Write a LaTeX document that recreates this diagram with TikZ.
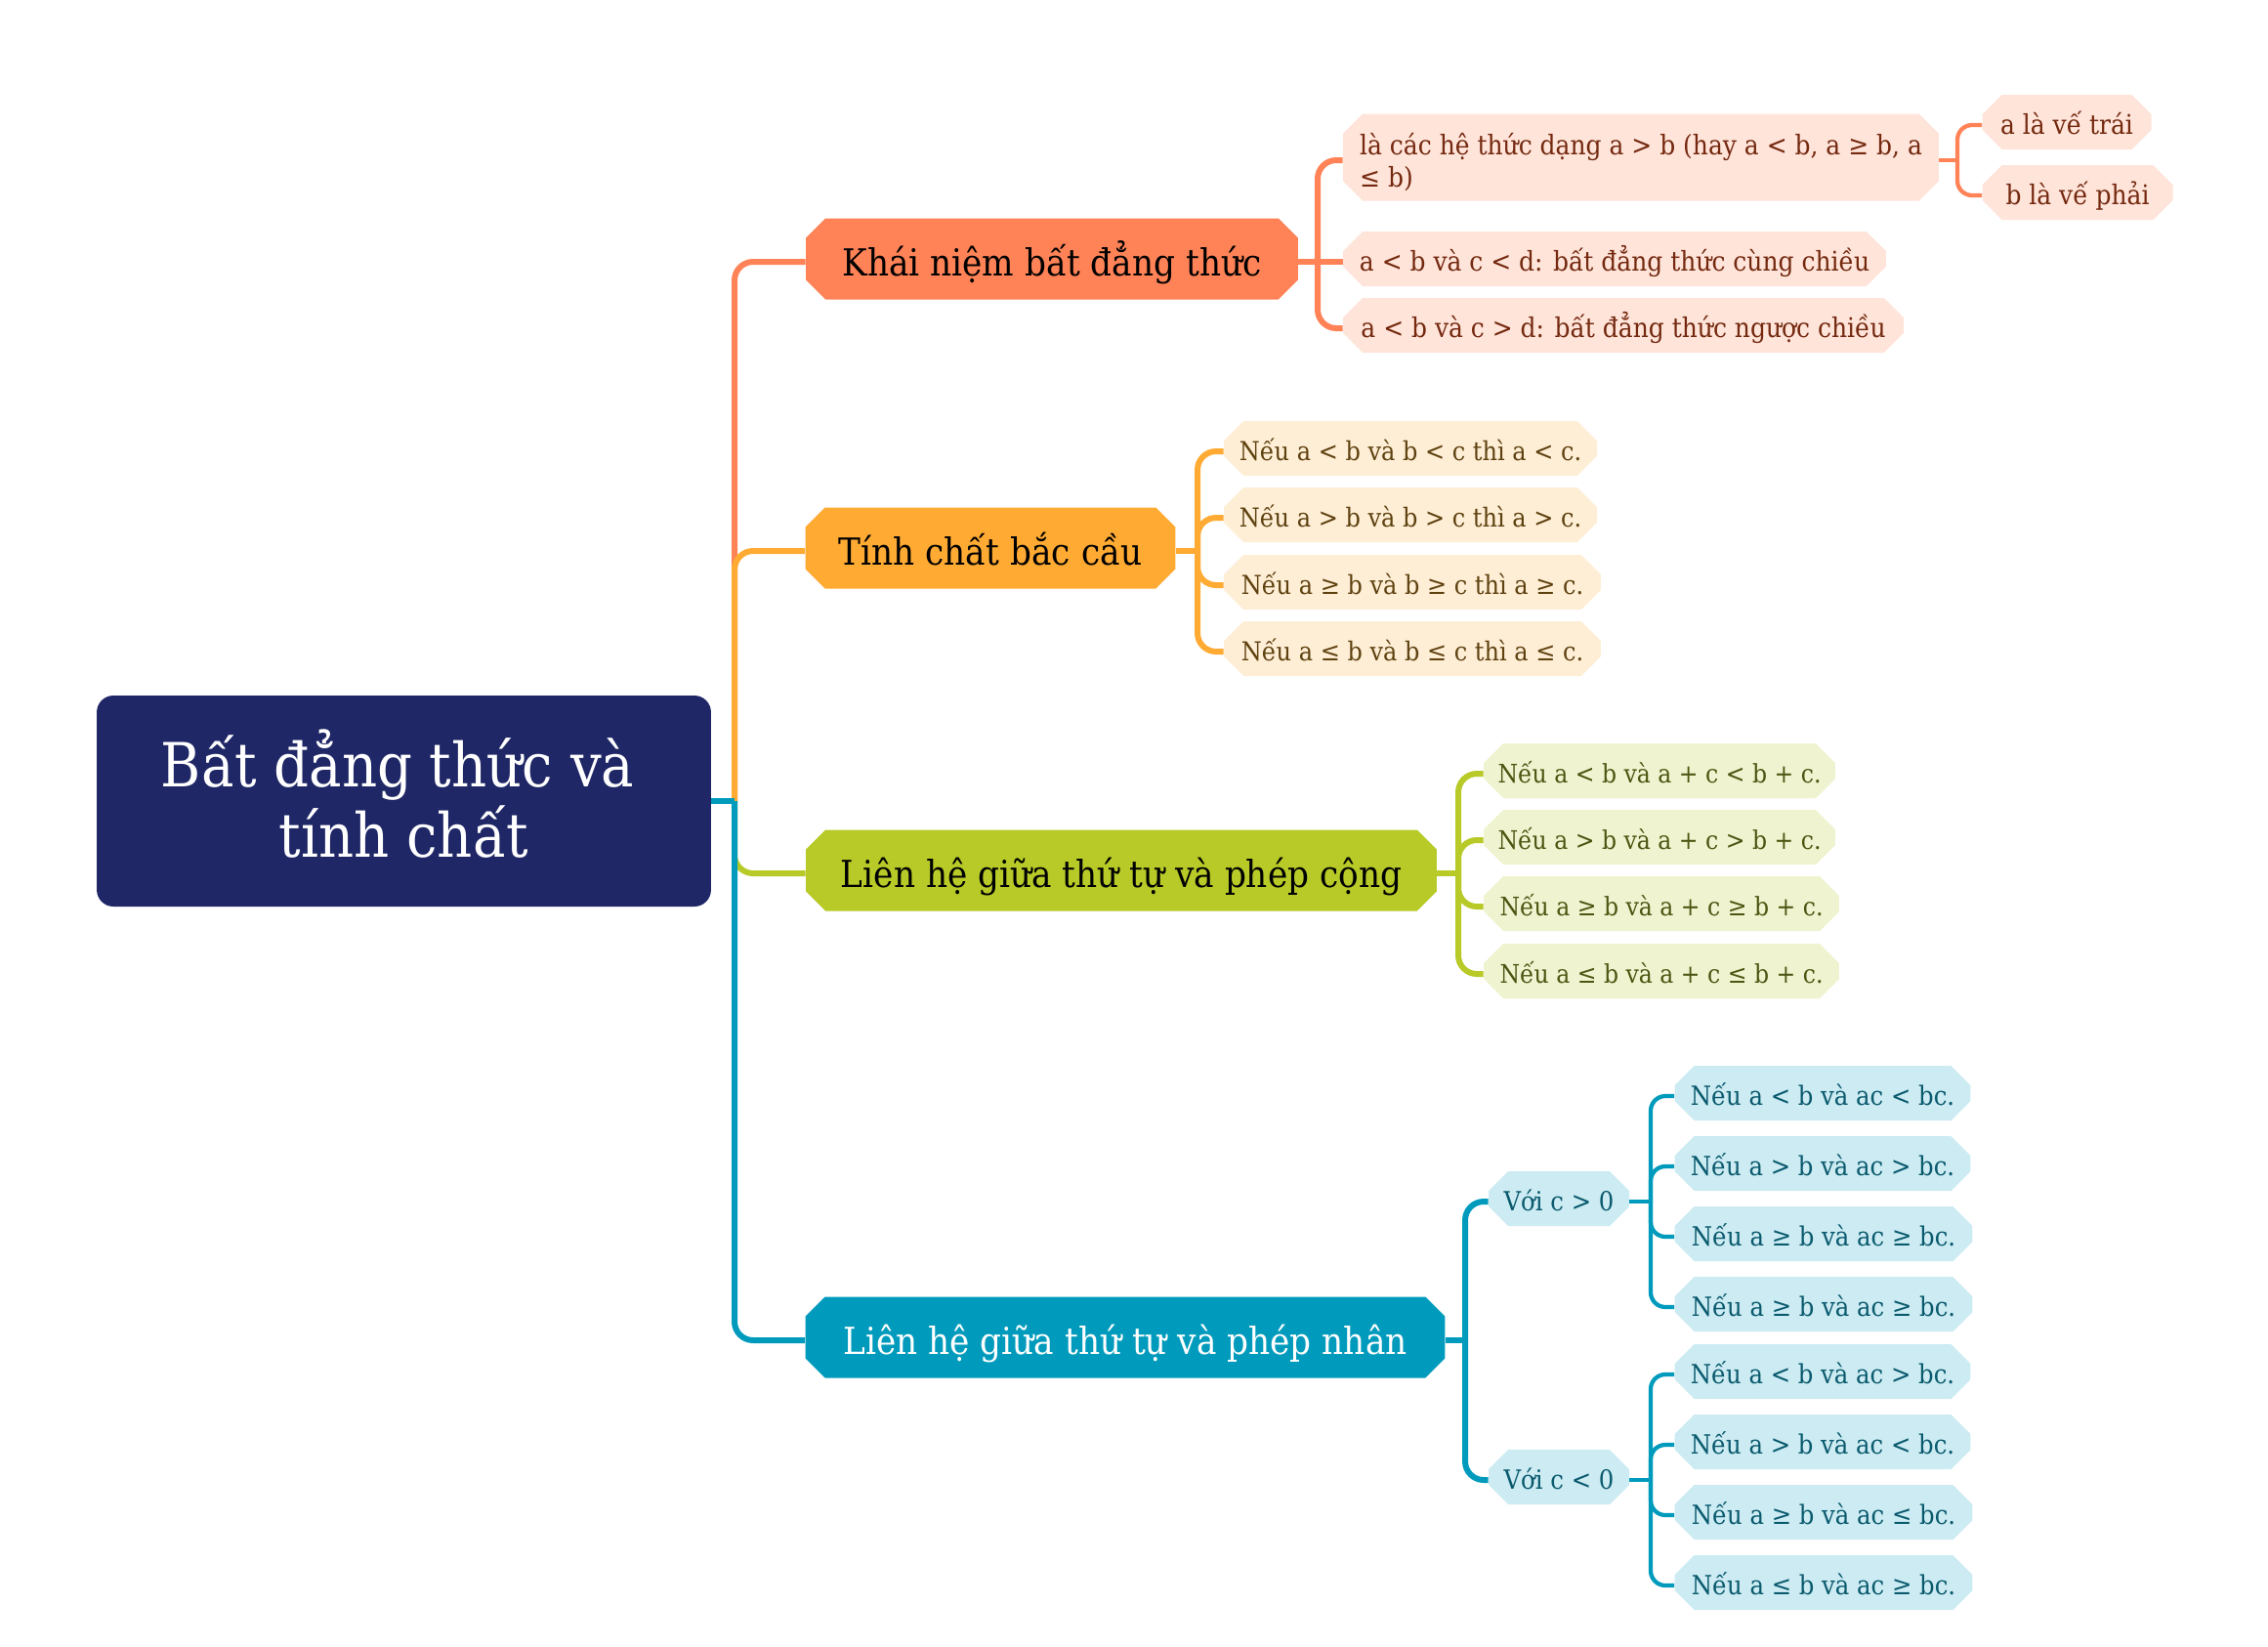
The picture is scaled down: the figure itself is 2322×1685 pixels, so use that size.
\documentclass[tikz,border=0pt]{standalone}
\usepackage{fontspec}
\setmainfont{DejaVu Serif Condensed}
\usetikzlibrary{shapes.misc}

\definecolor{azul}{HTML}{1F2766}
\definecolor{nar}{HTML}{FF8357}
\definecolor{ama}{HTML}{FFAB33}
\definecolor{ver}{HTML}{B7CA27}
\definecolor{tur}{HTML}{009BBC}
\definecolor{narT}{HTML}{74290F}
\definecolor{amaT}{HTML}{5E4210}
\definecolor{verT}{HTML}{4D5512}
\definecolor{turT}{HTML}{0A5A6E}

\tikzstyle{raiz}= [rectangle,rounded corners=0.34cm,fill=azul,text=white,align=center,inner sep=0pt,minimum width=12.58cm,minimum height=4.32cm,text depth=0.3cm,font=\fontsize{35.5}{41}\selectfont]
\tikzstyle{rama}= [chamfered rectangle,chamfered rectangle sep=0.2cm,inner sep=0pt,minimum height=1.66cm,text height=0.84cm,text depth=0.14cm,font=\fontsize{21.7}{26}\selectfont]
\tikzstyle{hoja}= [chamfered rectangle,chamfered rectangle sep=0.2cm,inner sep=0pt,minimum height=1.12cm,align=left,text height=0.6cm,text depth=0.09cm,font=\fontsize{15.2}{18.7}\selectfont]
\tikzstyle{hojaN}= [hoja,fill=nar!22,text=narT,font=\fontsize{15.8}{18.7}\selectfont]
\tikzstyle{hojaA}= [hoja,fill=ama!20,text=amaT]
\tikzstyle{hojaV}= [hoja,fill=ver!22,text=verT,font=\fontsize{14.9}{18.7}\selectfont]
\tikzstyle{hojaT}= [hoja,fill=tur!20,text=turT,font=\fontsize{15.4}{18.7}\selectfont]
\tikzstyle{linea}= [line width=0.12cm,rounded corners=0.38cm]
\tikzstyle{fina}= [line width=0.085cm,rounded corners=0.3cm]

\begin{document}
\begin{tikzpicture}[x=0.02cm,y=-0.02cm]
		\useasboundingbox (0,0) rectangle (2322,1685);

		\coordinate (tronco) at (752,820);
		\coordinate (b1) at (1349,268);
		\coordinate (b1a) at (2004,164);
		\coordinate (b2) at (1226,564);
		\coordinate (b3) at (1493,894);
		\coordinate (b4) at (1500,1372);
		\coordinate (c1) at (1690,1230);
		\coordinate (c2) at (1690,1515);

		\node (raiz) at (413.5,820) [raiz] {Bất đẳng thức và\hspace*{0.26cm}\\tính chất};

		\node (k1) at (1077,265) [rama,fill=nar,minimum width=10.08cm] {Khái niệm bất đẳng thức};
		\node (k2) at (1014,561) [rama,fill=ama,minimum width=7.58cm] {Tính chất bắc cầu};
		\node (k3) at (1148,891) [rama,fill=ver,minimum width=12.92cm] {Liên hệ giữa thứ tự và phép cộng};
		\node (k4) at (1152,1369) [rama,fill=tur,text=white,minimum width=13.1cm] {Liên hệ giữa thứ tự và phép nhân};

		\node (l1) at (1680,161) [hojaN,minimum width=12.2cm,minimum height=1.78cm,text height=1.3cm,text depth=0.08cm] {là các hệ thức dạng a > b (hay a < b, a ≥ b, a\\≤ b)};
		\node (l2) at (1653,265) [hojaN,minimum width=11.12cm] {a < b và c < d: bất đẳng thức cùng chiều};
		\node (l3) at (1662,333) [hojaN,minimum width=11.48cm] {a < b và c > d: bất đẳng thức ngược chiều};
		\node (l4) at (2116,125) [hojaN,minimum width=3.46cm] {a là vế trái};
		\node (l5) at (2127,197) [hojaN,minimum width=3.9cm] {b là vế phải};

		\node (m1) at (1444,459) [hojaA,minimum width=7.64cm] {Nếu a < b và b < c thì a < c.};
		\node (m2) at (1444,527) [hojaA,minimum width=7.64cm] {Nếu a > b và b > c thì a > c.};
		\node (m3) at (1446,596) [hojaA,minimum width=7.72cm] {Nếu a ≥ b và b ≥ c thì a ≥ c.};
		\node (m4) at (1446,664) [hojaA,minimum width=7.72cm] {Nếu a ≤ b và b ≤ c thì a ≤ c.};

		\node (n1) at (1699,789) [hojaV,minimum width=7.2cm] {Nếu a < b và a + c < b + c.};
		\node (n2) at (1699,857) [hojaV,minimum width=7.2cm] {Nếu a > b và a + c > b + c.};
		\node (n3) at (1701,925) [hojaV,minimum width=7.28cm] {Nếu a ≥ b và a + c ≥ b + c.};
		\node (n4) at (1701,994) [hojaV,minimum width=7.28cm] {Nếu a ≤ b và a + c ≤ b + c.};

		\node (v1) at (1596,1227) [hojaT,minimum width=2.88cm] {Với c > 0};
		\node (v2) at (1596,1512) [hojaT,minimum width=2.88cm] {Với c < 0};

		\node (p1) at (1866,1119) [hojaT,minimum width=6.06cm] {Nếu a < b và ac < bc.};
		\node (p2) at (1866,1191) [hojaT,minimum width=6.06cm] {Nếu a > b và ac > bc.};
		\node (p3) at (1867,1263) [hojaT,minimum width=6.1cm] {Nếu a ≥ b và ac ≥ bc.};
		\node (p4) at (1867,1335) [hojaT,minimum width=6.1cm] {Nếu a ≥ b và ac ≥ bc.};
		\node (p5) at (1866,1404) [hojaT,minimum width=6.06cm] {Nếu a < b và ac > bc.};
		\node (p6) at (1866,1476) [hojaT,minimum width=6.06cm] {Nếu a > b và ac < bc.};
		\node (p7) at (1867,1548) [hojaT,minimum width=6.1cm] {Nếu a ≥ b và ac ≤ bc.};
		\node (p8) at (1867,1620) [hojaT,minimum width=6.1cm] {Nếu a ≤ b và ac ≥ bc.};

		\draw[linea,nar] (tronco) |- ([yshift=-0.06cm]k1.west);
		\draw[linea,ama] (tronco) |- ([yshift=-0.06cm]k2.west);
		\draw[linea,ver] (tronco) |- ([yshift=-0.06cm]k3.west);
		\draw[linea,tur] (tronco) |- ([yshift=-0.06cm]k4.west);
		\draw[line width=0.12cm,tur] (raiz.east) -- (tronco);

		\draw[linea,nar] (k1.east |- b1) -- (b1);
		\draw[linea,nar] (b1) |- ([yshift=-0.06cm]l1.west);
		\draw[linea,nar] (b1) -- (l2.west |- b1);
		\draw[linea,nar] (b1) |- ([yshift=-0.06cm]l3.west);
		\draw[fina,nar] (l1.east |- b1a) -- (b1a);
		\draw[fina,nar] (b1a) |- ([yshift=-0.06cm]l4.west);
		\draw[fina,nar] (b1a) |- ([yshift=-0.06cm]l5.west);

		\draw[linea,ama] (k2.east |- b2) -- (b2);
		\draw[linea,ama] (b2) |- ([yshift=-0.06cm]m1.west);
		\draw[linea,ama] (b2) |- ([yshift=-0.06cm]m2.west);
		\draw[linea,ama] (b2) |- ([yshift=-0.06cm]m3.west);
		\draw[linea,ama] (b2) |- ([yshift=-0.06cm]m4.west);

		\draw[linea,ver] (k3.east |- b3) -- (b3);
		\draw[linea,ver] (b3) |- ([yshift=-0.06cm]n1.west);
		\draw[linea,ver] (b3) |- ([yshift=-0.06cm]n2.west);
		\draw[linea,ver] (b3) |- ([yshift=-0.06cm]n3.west);
		\draw[linea,ver] (b3) |- ([yshift=-0.06cm]n4.west);

		\draw[linea,tur] (k4.east |- b4) -- (b4);
		\draw[linea,tur] (b4) |- ([yshift=-0.06cm]v1.west);
		\draw[linea,tur] (b4) |- ([yshift=-0.06cm]v2.west);

		\draw[fina,tur] (v1.east |- c1) -- (c1);
		\draw[fina,tur] (c1) |- ([yshift=-0.06cm]p1.west);
		\draw[fina,tur] (c1) |- ([yshift=-0.06cm]p2.west);
		\draw[fina,tur] (c1) |- ([yshift=-0.06cm]p3.west);
		\draw[fina,tur] (c1) |- ([yshift=-0.06cm]p4.west);

		\draw[fina,tur] (v2.east |- c2) -- (c2);
		\draw[fina,tur] (c2) |- ([yshift=-0.06cm]p5.west);
		\draw[fina,tur] (c2) |- ([yshift=-0.06cm]p6.west);
		\draw[fina,tur] (c2) |- ([yshift=-0.06cm]p7.west);
		\draw[fina,tur] (c2) |- ([yshift=-0.06cm]p8.west);

\end{tikzpicture}
\end{document}
